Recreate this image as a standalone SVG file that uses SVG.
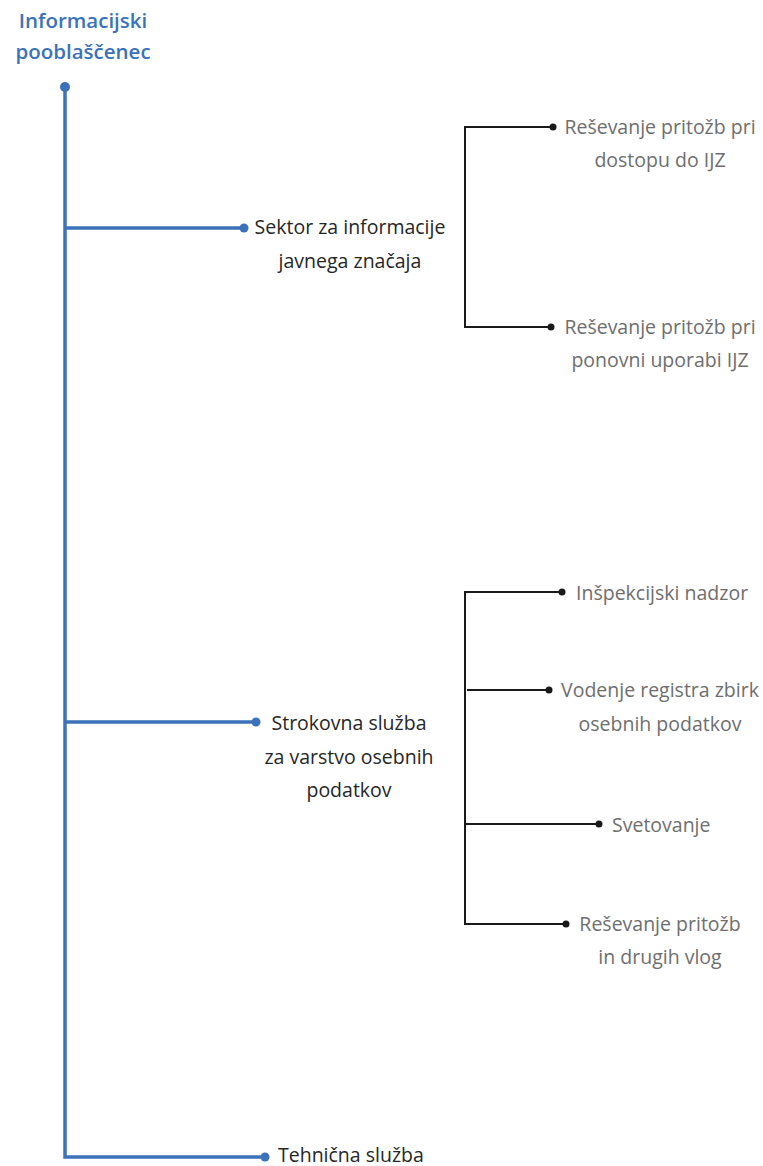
<svg xmlns="http://www.w3.org/2000/svg" width="763" height="1166" viewBox="0 0 763 1166">
<style>
.t{font-family:"Open Sans","Liberation Sans",sans-serif;font-size:19.5px;fill:#262626}
.g{font-family:"Open Sans","Liberation Sans",sans-serif;font-size:19.5px;fill:#6e6e6e}
.title{font-family:"Open Sans","Liberation Sans",sans-serif;font-size:20.5px;font-weight:600;fill:#3b72b9}
.blue{stroke:#3b72b9;stroke-width:3.5;fill:none}
.blk{stroke:#1a1a1a;stroke-width:2;fill:none}
.bd{fill:#3b72b9}
.kd{fill:#1a1a1a}
</style>
<rect width="763" height="1166" fill="#ffffff"/>
<g id="connectors">
<path class="blue" d="M65,87 V1157 H265 M65,228 H244 M65,722 H256"/>
<circle class="bd" cx="65" cy="87" r="5"/>
<circle class="bd" cx="244" cy="228" r="4.5"/>
<circle class="bd" cx="256" cy="722" r="4.5"/>
<circle class="bd" cx="265" cy="1157" r="4.5"/>
<path class="blk" d="M553,127 H465 V327 H551"/>
<circle class="kd" cx="553" cy="127" r="3.5"/>
<circle class="kd" cx="551" cy="327" r="3.5"/>
<path class="blk" d="M562,592 H465 V924 H566 M467,690 H549 M465,824 H599"/>
<circle class="kd" cx="562" cy="592" r="3.5"/>
<circle class="kd" cx="549" cy="690" r="3.5"/>
<circle class="kd" cx="599" cy="824" r="3.5"/>
<circle class="kd" cx="566" cy="924" r="3.5"/>
</g>
<g id="root">
<text class="title" x="83" y="28" text-anchor="middle">Informacijski</text>
<text class="title" x="83" y="59" text-anchor="middle">pooblaščenec</text>
</g>
<g id="sektor">
<text class="t" x="350" y="234" text-anchor="middle">Sektor za informacije</text>
<text class="t" x="350" y="268" text-anchor="middle">javnega značaja</text>
</g>
<g id="strokovna">
<text class="t" x="349" y="730" text-anchor="middle">Strokovna služba</text>
<text class="t" x="349" y="764" text-anchor="middle">za varstvo osebnih</text>
<text class="t" x="349" y="797" text-anchor="middle">podatkov</text>
</g>
<g id="tehnicna">
<text class="t" x="278" y="1162">Tehnična služba</text>
</g>
<g id="dostop">
<text class="g" x="660" y="134" text-anchor="middle">Reševanje pritožb pri</text>
<text class="g" x="660" y="167" text-anchor="middle">dostopu do IJZ</text>
</g>
<g id="uporaba">
<text class="g" x="660" y="334" text-anchor="middle">Reševanje pritožb pri</text>
<text class="g" x="660" y="367" text-anchor="middle">ponovni uporabi IJZ</text>
</g>
<g id="inspekcija">
<text class="g" x="576" y="600">Inšpekcijski nadzor</text>
</g>
<g id="register">
<text class="g" x="660" y="697" text-anchor="middle">Vodenje registra zbirk</text>
<text class="g" x="660" y="731" text-anchor="middle">osebnih podatkov</text>
</g>
<g id="svetovanje">
<text class="g" x="612" y="832">Svetovanje</text>
</g>
<g id="pritozbe">
<text class="g" x="660" y="931" text-anchor="middle">Reševanje pritožb</text>
<text class="g" x="660" y="964" text-anchor="middle">in drugih vlog</text>
</g>
</svg>
